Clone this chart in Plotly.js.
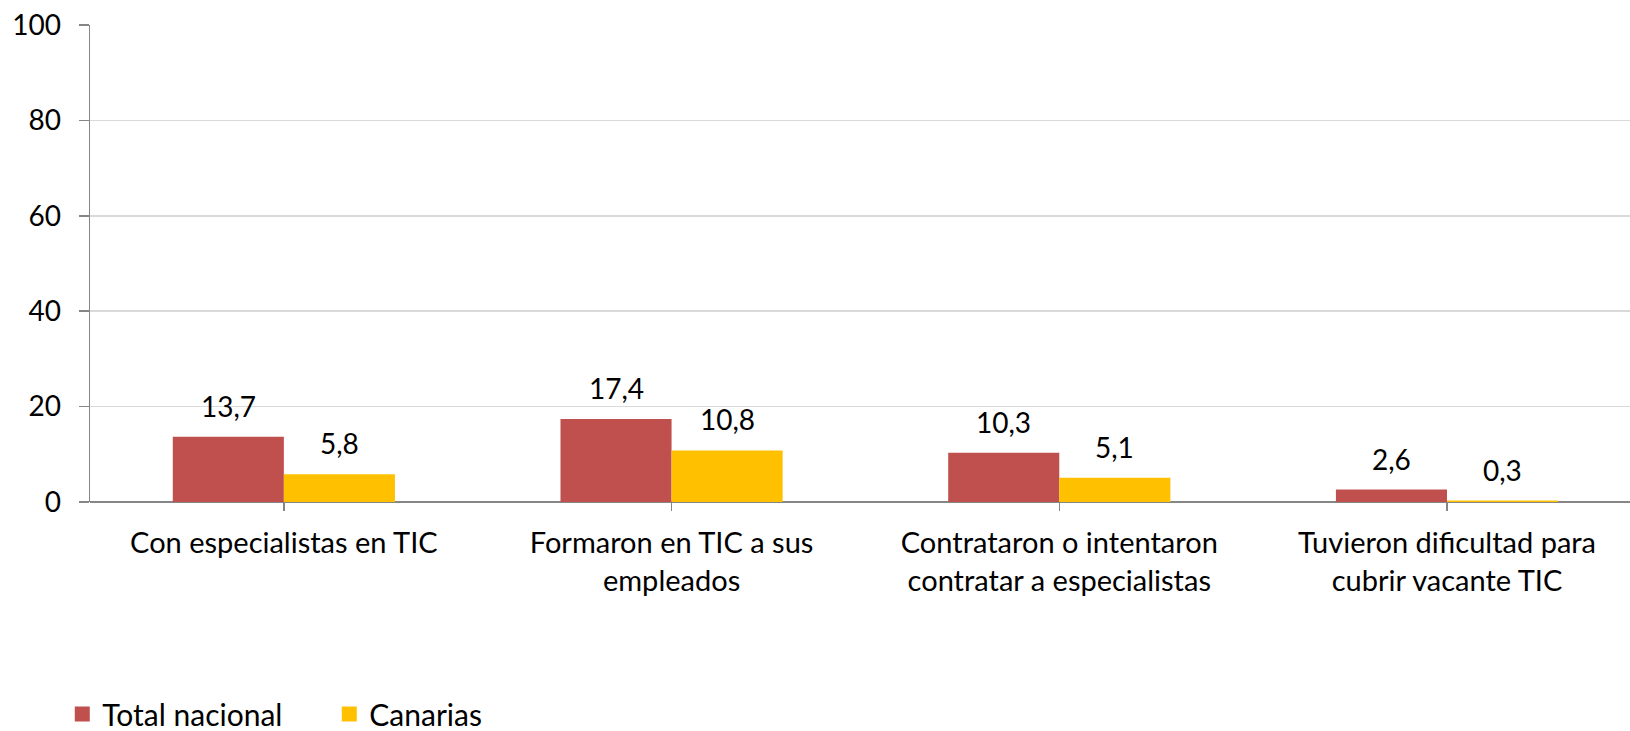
<!DOCTYPE html>
<html>
<head>
<meta charset="utf-8">
<script src="https://cdn.plot.ly/plotly-3.0.1.min.js"></script>
<style>html,body{margin:0;padding:0;background:#fff;}#chart{width:1630px;height:731px;}</style>
</head>
<body>
<div id="chart"></div>
<script>
const categories = [
  "Con especialistas en TIC",
  "Formaron en TIC a sus<br>empleados",
  "Contrataron o intentaron<br>contratar a especialistas",
  "Tuvieron dificultad para<br>cubrir vacante TIC"
];
const seriesNames = ["Total nacional", "Canarias"];
const totalNacional = [13.7, 17.4, 10.3, 2.6];
const canarias = [5.8, 10.8, 5.1, 0.3];
const yTicks = [0, 20, 40, 60, 80, 100];

const colors = ["#C0504D", "#FFC000"];
const FONT = "Lato, 'Open Sans', sans-serif";
const FS = 28;
const bargap = 0.427;
const idx = categories.map((c, i) => i);
const fmt = v => v.toFixed(1).replace('.', ',');

const traces = [totalNacional, canarias].map((vals, s) => ({
  type: 'bar',
  name: seriesNames[s],
  x: idx,
  y: vals,
  marker: {color: colors[s], line: {width: 0}},
  showlegend: false,
  hoverinfo: 'skip'
}));
// legend-only entries with larger square swatches
seriesNames.forEach((n, s) => {
  traces.push({
    type: 'scatter', mode: 'markers', name: n,
    x: [null], y: [null],
    marker: {symbol: 'square', size: 15, color: colors[s], line: {width: 0}},
    showlegend: true, hoverinfo: 'skip'
  });
});

const half = (1 - bargap) / 4;
const annotations = [];
[totalNacional, canarias].forEach((vals, s) => {
  vals.forEach((v, i) => {
    annotations.push({
      x: i + (s === 0 ? -half : half),
      y: v,
      xref: 'x', yref: 'y',
      text: fmt(v),
      showarrow: false,
      yanchor: 'bottom',
      yshift: 12,
      font: {family: FONT, size: FS, color: '#000'}
    });
  });
});

const layout = {
  width: 1630, height: 731,
  margin: {l: 90, r: 0, t: 25, b: 229, autoexpand: false},
  paper_bgcolor: '#fff', plot_bgcolor: '#fff',
  barmode: 'group',
  bargap: bargap,
  bargroupgap: 0,
  separators: ',.',
  font: {family: FONT, size: FS, color: '#000'},
  xaxis: {
    type: 'linear',
    range: [-0.5, 3.472],
    tickmode: 'array',
    tickvals: idx,
    ticktext: categories,
    ticks: 'outside', ticklen: 8, tickcolor: '#868686', tickwidth: 1.5,
    ticklabelstandoff: 7,
    showline: false, showgrid: false, zeroline: false,
    tickfont: {family: FONT, size: 29, color: '#000'},
    automargin: false,
    fixedrange: true
  },
  yaxis: {
    range: [0, 100],
    tickmode: 'array',
    tickvals: yTicks,
    ticktext: yTicks.map(String),
    ticks: 'outside', ticklen: 10, tickcolor: '#868686', tickwidth: 1.5,
    ticklabelstandoff: 12,
    showline: true, linecolor: '#868686', linewidth: 1.5,
    showgrid: true, gridcolor: '#D9D9D9', gridwidth: 1.5,
    zeroline: true, zerolinecolor: '#868686', zerolinewidth: 1.5,
    tickfont: {family: FONT, size: FS, color: '#000'},
    automargin: false,
    fixedrange: true
  },
  showlegend: true,
  legend: {
    orientation: 'h',
    x: -0.018, xanchor: 'left',
    y: -0.499, yanchor: 'bottom',
    font: {family: FONT, size: 30, color: '#000'},
    itemwidth: 30,
    itemsizing: 'trace',
    entrywidth: 222,
    entrywidthmode: 'pixels',
    tracegroupgap: 0,
    bgcolor: 'rgba(0,0,0,0)'
  },
  annotations: annotations
};

Plotly.newPlot('chart', traces, layout, {displayModeBar: false, staticPlot: true});
</script>
</body>
</html>
